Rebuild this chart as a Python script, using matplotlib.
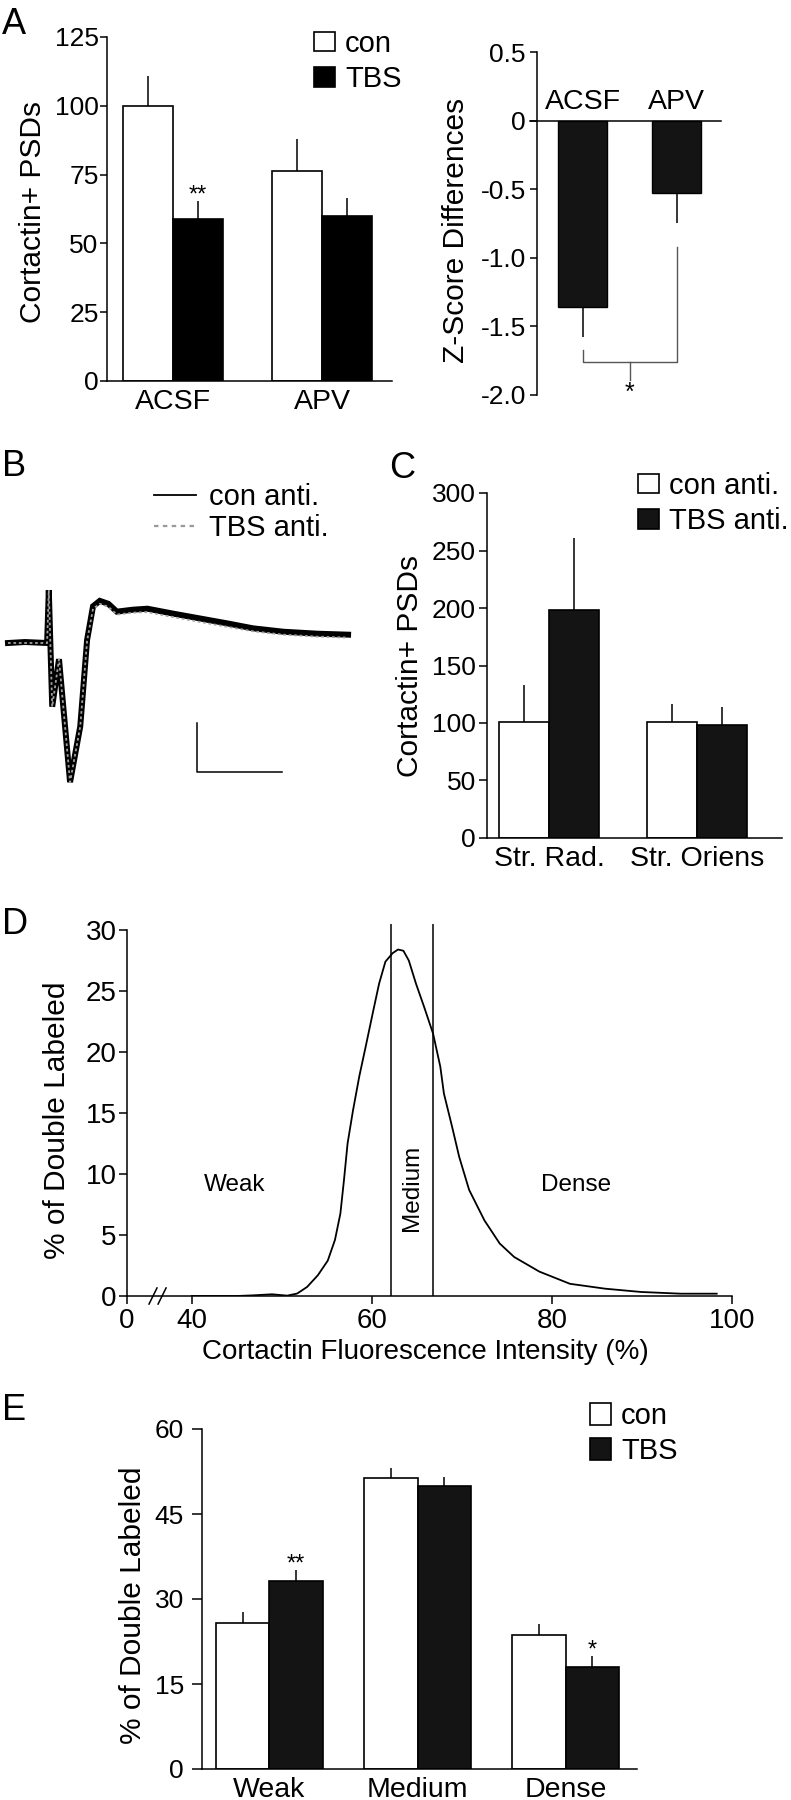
import matplotlib
matplotlib.use('Agg')
import matplotlib.pyplot as plt
from matplotlib.patches import Patch
from matplotlib.lines import Line2D
import numpy as np

plt.rcParams['font.family'] = ['Liberation Sans', 'DejaVu Sans']
plt.rcParams['axes.linewidth'] = 1.1
plt.rcParams['xtick.major.width'] = 1.1
plt.rcParams['ytick.major.width'] = 1.1

# ---- data ----
# A, left: cortactin+ PSDs
a_groups = ['ACSF', 'APV']
a_con = [100, 76.2]
a_con_err = [10.9, 11.7]
a_tbs = [58.9, 60.0]
a_tbs_err = [6.4, 6.5]

# A, right: z-score differences
z_groups = ['ACSF', 'APV']
z_diff = [-1.355, -0.525]
z_err = [0.225, 0.225]

# B: field potential traces (ms, mV)
t_ms = [0, 2, 4.6, 4.8, 5.2, 6.0, 7.3, 8.5, 9.3, 10.0, 10.8, 11.8, 12.8,
        14.7, 16.4, 19.4, 22.6, 25.8, 28.8, 32.4, 36.4, 40.0]
v_con = [0, 0.02, 0, 1.08, -1.3, -0.33, -2.84, -1.7, 0.06, 0.75, 0.86, 0.8,
         0.64, 0.68, 0.7, 0.6, 0.5, 0.4, 0.3, 0.23, 0.19, 0.17]
v_tbs = [0, 0.0, 0, 1.08, -1.3, -0.33, -2.84, -1.7, 0.04, 0.7, 0.8, 0.74,
         0.58, 0.62, 0.63, 0.53, 0.43, 0.33, 0.24, 0.17, 0.13, 0.11]

# C
c_groups = ['Str. Rad.', 'Str. Oriens']
c_con = [101, 101]
c_con_err = [32, 15.5]
c_tbs = [198, 98.6]
c_tbs_err = [63, 15]

# D: intensity distribution
d_x = [40, 45, 46.7, 48.9, 50.6, 51.7, 52.8, 54.0, 55.1, 55.9, 56.5, 56.9,
       57.3, 57.9, 58.6, 59.3, 60.1, 60.8, 61.5, 62.3, 62.9, 63.5, 64.1,
       64.9, 65.8, 66.8, 67.6, 68.0, 68.9, 69.7, 70.8, 72.5, 74.2, 75.8,
       78.6, 82.0, 85.9, 89.9, 94.3, 98.3]
d_y = [0, 0, 0.05, 0.14, 0.03, 0.2, 0.74, 1.7, 2.9, 4.6, 6.75, 9.5, 12.5,
       15.2, 18.0, 20.4, 23.2, 25.6, 27.4, 28.1, 28.4, 28.3, 27.5, 25.6,
       23.7, 21.5, 18.8, 16.6, 13.9, 11.4, 8.7, 6.2, 4.3, 3.2, 2.0, 1.0,
       0.6, 0.33, 0.19, 0.19]
d_bounds = [62.1, 66.75]
d_regions = ['Weak', 'Medium', 'Dense']

# E
e_groups = ['Weak', 'Medium', 'Dense']
e_con = [25.8, 51.3, 23.6]
e_con_err = [1.9, 1.8, 2.0]
e_tbs = [33.1, 49.9, 18.0]
e_tbs_err = [2.0, 1.6, 1.9]

W, H = 791, 1800
fig = plt.figure(figsize=(W / 100, H / 100), dpi=100)


def box(x0, y0, x1, y1):
    return [x0 / W, 1 - y1 / H, (x1 - x0) / W, (y1 - y0) / H]


def fx(x):
    return x / W


def fy(y):
    return 1 - y / H


DARK = '#141414'
TICK = 19
CAT = 20.5
LAB = 21.5
LEG = 21


def grouped(ax, con, con_err, tbs, tbs_err, w, dark):
    x = np.arange(len(con))
    ax.bar(x - w / 2, con, w, color='white', edgecolor='k', lw=1.2, zorder=2)
    ax.bar(x + w / 2, tbs, w, color=dark, edgecolor='k', lw=1.2, zorder=2)
    z = np.zeros(len(con))
    ax.errorbar(x - w / 2, con, yerr=[z, con_err], fmt='none', ecolor='k',
                elinewidth=1.1, capsize=0, zorder=1)
    ax.errorbar(x + w / 2, tbs, yerr=[z, tbs_err], fmt='none', ecolor='k',
                elinewidth=1.1, capsize=0, zorder=1)
    for s in ['top', 'right']:
        ax.spines[s].set_visible(False)
    return x


def sq_legend(ax, labels, dark, x, y, hh=0.65):
    h = [Patch(facecolor='white', edgecolor='k', lw=1.2),
         Patch(facecolor=dark, edgecolor='k', lw=1.2)]
    ax.legend(h, labels, loc='upper left', bbox_to_anchor=(fx(x), fy(y)),
              bbox_transform=fig.transFigure, frameon=False, fontsize=LEG,
              handlelength=0.72, handleheight=hh, handletextpad=0.35,
              labelspacing=0.25, borderpad=0, borderaxespad=0)


# ---- A left ----
ax = fig.add_axes(box(107, 37, 392, 381))
w = 0.335
x = grouped(ax, a_con, a_con_err, a_tbs, a_tbs_err, w, '#000000')
ax.set_xlim(-0.443, 1.47)
ax.set_ylim(0, 125)
ax.set_yticks([0, 25, 50, 75, 100, 125])
ax.set_xticks(x)
ax.set_xticklabels(a_groups, fontsize=CAT)
ax.tick_params(axis='x', length=0, pad=6)
ax.tick_params(axis='y', labelsize=TICK, length=5, pad=1)
ax.annotate('**', (x[0] + w / 2, a_tbs[0] + a_tbs_err[0]), xytext=(0, 0),
            textcoords='offset points', ha='center', va='baseline', fontsize=17)
sq_legend(ax, ['con', 'TBS'], '#000000', 314, 30)
fig.text(fx(33), fy(212), 'Cortactin+ PSDs', rotation=90, ha='center',
         va='center', fontsize=LAB)

# ---- A right ----
ax = fig.add_axes(box(537, 52, 721, 395))
xz = np.arange(len(z_diff))
ax.bar(xz, z_diff, 0.52, color=DARK, edgecolor='k', lw=1.0, zorder=2)
ax.errorbar(xz, z_diff, yerr=[z_err, np.zeros(len(z_err))], fmt='none',
            ecolor='k', elinewidth=1.1, capsize=0, zorder=1)
ax.axhline(0, color='k', lw=1.1, xmin=-0.04, clip_on=False, zorder=3)
ax.set_xlim(-0.484, 1.473)
ax.set_ylim(-2.0, 0.5)
ax.set_yticks([0.5, 0, -0.5, -1.0, -1.5, -2.0])
ax.set_yticklabels(['0.5', '0', '-0.5', '-1.0', '-1.5', '-2.0'])
ax.tick_params(axis='y', labelsize=TICK, length=5, pad=3)
ax.set_xticks([])
for s in ['top', 'right', 'bottom']:
    ax.spines[s].set_visible(False)
for i, g in enumerate(z_groups):
    ax.text(xz[i], 0.04, g, ha='center', va='bottom', fontsize=CAT)
# significance bracket
yb = -1.76
ax.plot([xz[0], xz[0], xz[1], xz[1]], [-1.67, yb, yb, -0.92], color='#555555',
        lw=1.0, clip_on=False)
xm = (xz[0] + xz[1]) / 2
ax.plot([xm, xm], [yb, -1.89], color='#555555', lw=1.0, clip_on=False)
ax.text(xm, -1.9, '*', ha='center', va='top', fontsize=18, clip_on=False)
fig.text(fx(456), fy(230), 'Z-Score Differences', rotation=90, ha='center',
         va='center', fontsize=LAB)

# ---- B ----
ax = fig.add_axes(box(0, 560, 360, 800))
ax.plot(t_ms, v_con, color='k', lw=4.3, solid_joinstyle='miter')
ax.plot(t_ms, v_tbs, color='#a0a0a0', lw=1.3, ls=(0, (1.5, 1.5)))
ax.set_xlim(-0.94, 41.4)
ax.set_ylim(-3.204, 1.694)
sb_t, sb_v = 10, 1.0
sb_x0, sb_y0 = 22.2, -2.63
ax.plot([sb_x0, sb_x0, sb_x0 + sb_t], [sb_y0 + sb_v, sb_y0, sb_y0], color='k',
        lw=1.1)
ax.axis('off')
hb = [Line2D([], [], color='k', lw=1.3),
      Line2D([], [], color='#999999', lw=1.6, ls=(0, (2, 2)))]
ax.legend(hb, ['con anti.', 'TBS anti.'], loc='upper left',
          bbox_to_anchor=(fx(154), fy(483)), bbox_transform=fig.transFigure,
          frameon=False, fontsize=LEG, handlelength=1.45, handletextpad=0.45,
          labelspacing=0.1, borderpad=0, borderaxespad=0)

# ---- C ----
ax = fig.add_axes(box(487, 493, 782, 838))
w = 0.34
x = grouped(ax, c_con, c_con_err, c_tbs, c_tbs_err, w, DARK)
ax.set_xlim(-0.419, 1.574)
ax.set_ylim(0, 300)
ax.set_yticks(range(0, 301, 50))
ax.set_xticks(x)
ax.set_xticklabels(c_groups, fontsize=CAT)
ax.tick_params(axis='x', length=0, pad=6)
ax.tick_params(axis='y', labelsize=TICK, length=6, pad=2)
sq_legend(ax, ['con anti.', 'TBS anti.'], DARK, 638, 472)
fig.text(fx(410), fy(666), 'Cortactin+ PSDs', rotation=90, ha='center',
         va='center', fontsize=LAB)

# ---- D ----
ax = fig.add_axes(box(127, 930, 732, 1296))
x0 = 32.8
ax.plot(d_x, d_y, color='k', lw=1.3)
ax.vlines(d_bounds, 0, 30.5, color='k', lw=1.1, clip_on=False)
ax.set_xlim(x0, 100)
ax.set_ylim(0, 30)
ax.set_xticks([x0, 40, 60, 80, 100])
ax.set_xticklabels(['0', '40', '60', '80', '100'])
ax.set_yticks(range(0, 31, 5))
ax.tick_params(labelsize=20, length=6)
ax.tick_params(axis='y', pad=1.5)
ax.tick_params(axis='x', pad=3)
for s in ['top', 'right']:
    ax.spines[s].set_visible(False)
# axis break marks
for bx in [0.043, 0.058]:
    ax.plot([bx - 0.0066, bx + 0.0066], [-0.022, 0.022], color='k', lw=1.1,
            transform=ax.transAxes, clip_on=False)
ax.text(44.8, 9.1, d_regions[0], ha='center', va='center', fontsize=17.5)
ax.text(sum(d_bounds) / 2, 8.9, d_regions[1], ha='center', va='center',
        rotation=90, fontsize=17.5)
ax.text(82.7, 9.1, d_regions[2], ha='center', va='center', fontsize=17.5)
fig.text(fx(57), fy(1120), '% of Double Labeled', rotation=90, ha='center',
         va='center', fontsize=LAB)
fig.text(fx(425), fy(1352), 'Cortactin Fluorescence Intensity (%)',
         ha='center', va='center', fontsize=20)

# ---- E ----
ax = fig.add_axes(box(202, 1429, 637, 1769))
w = 0.36
x = grouped(ax, e_con, e_con_err, e_tbs, e_tbs_err, w, DARK)
ax.set_xlim(-0.456, 2.483)
ax.set_ylim(0, 60)
ax.set_yticks([0, 15, 30, 45, 60])
ax.set_xticks(x)
ax.set_xticklabels(e_groups, fontsize=CAT)
ax.tick_params(axis='x', length=0, pad=6)
ax.tick_params(axis='y', labelsize=TICK, length=7, pad=6)
ax.annotate('**', (x[0] + w / 2, e_tbs[0] + e_tbs_err[0]), xytext=(0, 0),
            textcoords='offset points', ha='center', va='baseline', fontsize=17)
ax.annotate('*', (x[2] + w / 2, e_tbs[2] + e_tbs_err[2]), xytext=(0, 0),
            textcoords='offset points', ha='center', va='baseline', fontsize=17)
sq_legend(ax, ['con', 'TBS'], DARK, 590, 1402, hh=0.75)
fig.text(fx(133), fy(1605), '% of Double Labeled', rotation=90, ha='center',
         va='center', fontsize=LAB)

# panel letters
for lab, (px, py) in zip('ABCDE', [(2, 24), (2, 466), (389, 468), (2, 924),
                                    (2, 1410)]):
    fig.text(fx(px), fy(py), lab, ha='left', va='center', fontsize=26)

fig.savefig('out.png', dpi=100)
